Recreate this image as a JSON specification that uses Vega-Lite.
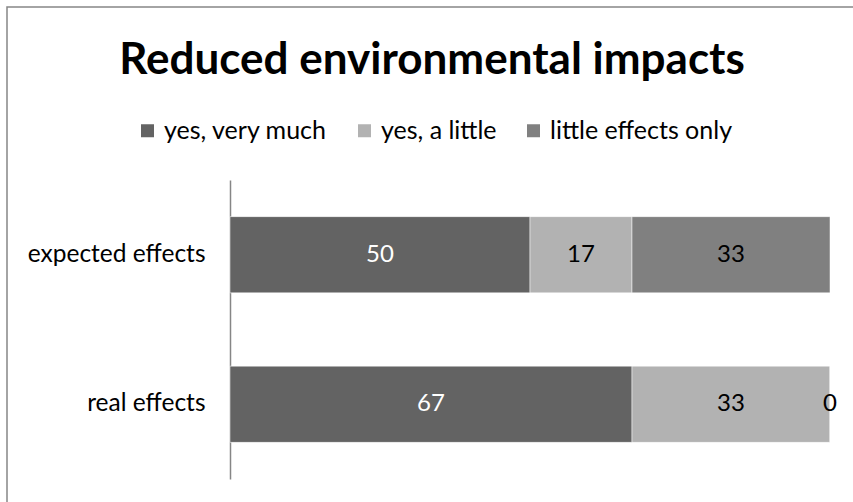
{
  "$schema": "https://vega.github.io/schema/vega-lite/v6.json",
  "width": 850,
  "height": 500,
  "autosize": {"type": "none"},
  "padding": {"left": 7, "top": 7, "right": 0, "bottom": 0},
  "background": "white",
  "config": {
    "view": {"stroke": "#868686", "strokeWidth": 1.5},
    "font": "Lato"
  },
  "title": {
    "text": "Reduced environmental impacts",
    "fontSize": 44,
    "fontWeight": "bold",
    "font": "Lato",
    "color": "black",
    "anchor": "middle",
    "frame": "group",
    "baseline": "top",
    "offset": -76
  },
  "data": {
    "values": [
      {"effect": "expected effects", "response": "yes, very much", "value": 50},
      {"effect": "expected effects", "response": "yes, a little", "value": 17},
      {"effect": "expected effects", "response": "little effects only", "value": 33},
      {"effect": "real effects", "response": "yes, very much", "value": 67},
      {"effect": "real effects", "response": "yes, a little", "value": 33},
      {"effect": "real effects", "response": "little effects only", "value": 0}
    ]
  },
  "transform": [
    {"stack": "value", "groupby": ["effect"], "as": ["v0", "v1"]},
    {"calculate": "(datum.v0 + datum.v1) / 2", "as": "mid"}
  ],
  "encoding": {
    "y": {
      "field": "effect",
      "type": "nominal",
      "sort": ["expected effects", "real effects"],
      "scale": {"range": [173, 472], "paddingInner": 0.49, "paddingOuter": 0.245},
      "axis": {
        "title": null,
        "orient": "left",
        "offset": -223,
        "ticks": false,
        "tickSize": 0,
        "labelPadding": 25,
        "labelFontSize": 24.5,
        "labelFont": "Lato",
        "labelColor": "black",
        "domainColor": "#868686",
        "domainWidth": 1.5
      }
    }
  },
  "layer": [
    {
      "mark": {"type": "bar", "stroke": "white", "strokeWidth": 0.5},
      "encoding": {
        "x": {"field": "v0", "type": "quantitative", "scale": {"domain": [0, 100], "range": [223, 823]}, "axis": null},
        "x2": {"field": "v1"},
        "color": {
          "field": "response",
          "type": "nominal",
          "sort": ["yes, very much", "yes, a little", "little effects only"],
          "scale": {"domain": ["yes, very much", "yes, a little", "little effects only"], "range": ["#636363", "#b2b2b2", "#808080"]},
          "legend": {
            "title": null,
            "orient": "none",
            "direction": "horizontal",
            "legendX": 128,
            "legendY": 111,
            "symbolType": "square",
            "symbolSize": 169,
            "symbolStrokeWidth": 0,
            "symbolOpacity": 1,
            "labelFontSize": 25,
            "labelFont": "Lato",
            "labelColor": "black",
            "labelLimit": 0,
            "labelOffset": 4,
            "columnPadding": 24
          }
        }
      }
    },
    {
      "mark": {"type": "text", "fontSize": 24, "font": "Lato"},
      "encoding": {
        "x": {"field": "mid", "type": "quantitative"},
        "text": {"field": "value", "type": "quantitative"},
        "color": {
          "condition": {"test": "datum.response === 'yes, very much'", "value": "white"},
          "value": "black"
        }
      }
    }
  ]
}
